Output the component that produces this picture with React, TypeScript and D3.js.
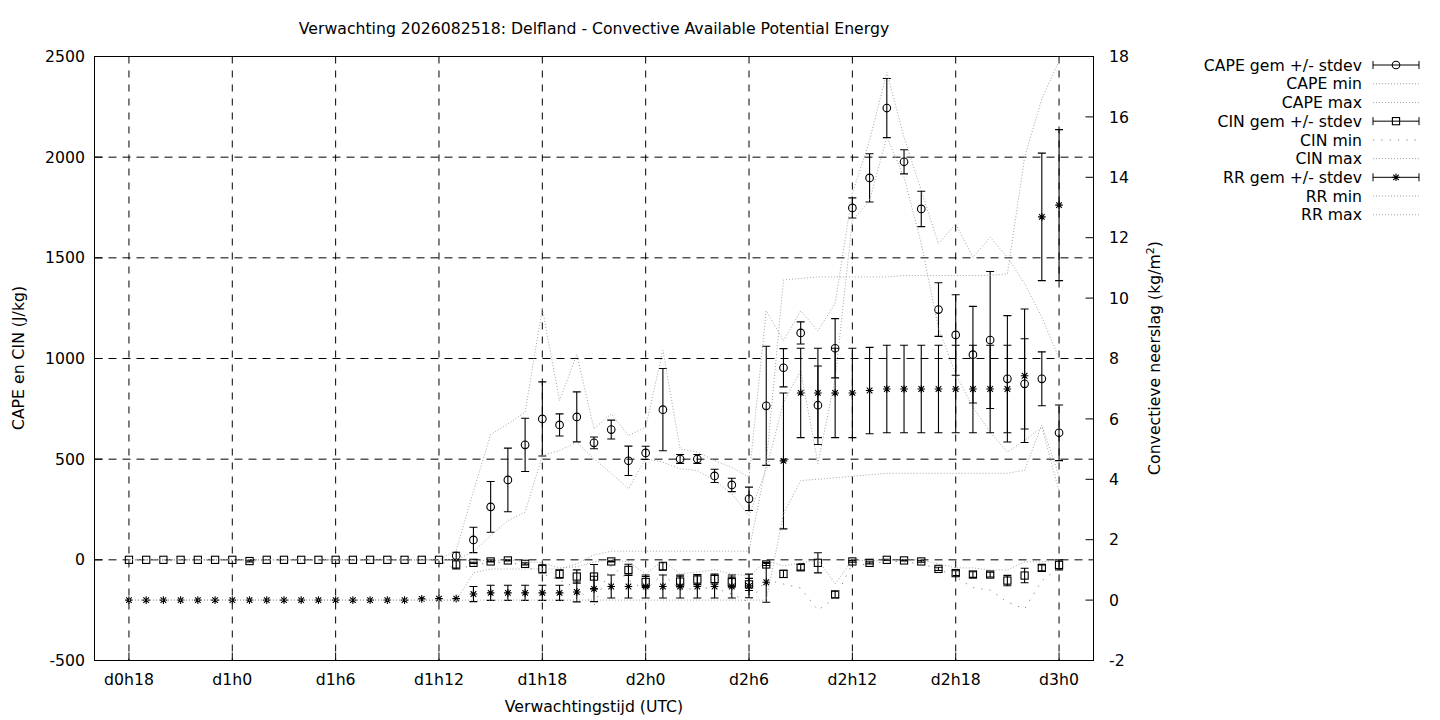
import * as d3 from "d3";

// forecast hours (d0h18 = 18 ... d3h0 = 72)
const hours = [
  18, 19, 20, 21, 22, 23, 24, 25, 26, 27, 28, 29, 30, 31, 32, 33, 34, 35, 36,
  37, 38, 39, 40, 41, 42, 43, 44, 45, 46, 47, 48, 49, 50, 51, 52, 53, 54, 55,
  56, 57, 58, 59, 60, 61, 62, 63, 64, 65, 66, 67, 68, 69, 70, 71, 72,
];

const xTickHours = [18, 24, 30, 36, 42, 48, 54, 60, 66, 72];
const xTickLabels = ["d0h18", "d1h0", "d1h6", "d1h12", "d1h18", "d2h0", "d2h6", "d2h12", "d2h18", "d3h0"];
const yLeftTicks = [-500, 0, 500, 1000, 1500, 2000, 2500];
const yRightTicks = [-2, 0, 2, 4, 6, 8, 10, 12, 14, 16, 18];

const N = null;
const capeMean: (number | null)[] = [
  N, N, N, N, N, N, N, N, N, N, N, N, N, N, N, N, N, N, N,
  20, 99, 263, 397, 571, 700, 670, 710, 581, 647,
  492, 531, 746, 501, 501, 417, 372, 303, 765, 954,
  1127, 768, 1051, 1748, 1897, 2244, 1977, 1743, 1243, 1117,
  1019, 1092, 899, 874, 899, 631,
];
const capeSd = [
  0, 0, 0, 0, 0, 0, 0, 0, 0, 0, 0, 0, 0, 0, 0, 0, 0, 0, 0,
  18, 63, 126, 158, 132, 184, 55, 124, 29, 47,
  73, 33, 204, 22, 22, 33, 33, 58, 296, 95,
  55, 195, 147, 50, 120, 147, 60, 88, 133, 200,
  240, 340, 314, 224, 134, 138,
];
const capeMin = [
  0, 0, 0, 0, 0, 0, 0, 0, 0, 0, 0, 0, 0, 0, 0, 0, 0, 0, 0,
  0, 40, 120, 195, 237, 518, 543, 584, 502, 430,
  353, 503, 485, 452, 444, 394, 328, 220, 450, 780,
  940, 478, 900, 1685, 1785, 2099, 1900, 1571, 1150, 923,
  758, 634, 535, 593, 659, 340,
];
const capeMax = [
  0, 0, 0, 0, 0, 0, 0, 0, 0, 0, 0, 0, 0, 0, 0, 0, 0, 0, 0,
  46, 341, 622, 675, 733, 1247, 791, 1020, 651, 725,
  617, 659, 1040, 551, 535, 493, 460, 410, 1237, 1088,
  1237, 1138, 1274, 1820, 2083, 2422, 2099, 1834, 1569, 1669,
  1503, 1602, 1503, 1372, 1205, 1000,
];

const cinMean = [
  0, 0, 0, 0, 0, 0, 0, -6, 0, 0, 0, 0, 0, 0, 0, 0, 0, 0, 0,
  -23, -15, -8, -3, -20, -45, -70, -83, -83, -8,
  -50, -110, -32, -108, -98, -95, -111, -122, -23, -70,
  -37, -15, -172, -8, -15, 0, -3, -8, -45, -66,
  -73, -73, -103, -78, -40, -25,
];
const cinSd = [
  0, 0, 0, 0, 0, 0, 0, 4, 0, 0, 0, 0, 0, 0, 0, 0, 0, 0, 0,
  22, 3, 3, 3, 5, 20, 21, 33, 60, 3,
  28, 27, 20, 27, 25, 25, 25, 30, 5, 18,
  14, 50, 16, 4, 5, 3, 3, 4, 8, 12,
  14, 12, 26, 36, 15, 25,
];
const cinMin = [
  0, 0, 0, 0, 0, 0, 0, -12, 0, 0, 0, 0, 0, 0, 0, 0, 0, 0, 0,
  -50, -25, -15, -10, -30, -70, -100, -140, -225, -30,
  -100, -150, -70, -150, -140, -140, -170, -210, -100, -120,
  -140, -250, -190, -20, -25, -5, -10, -20, -45, -86,
  -138, -150, -210, -244, -103, -40,
];
const cinMax = [
  0, 0, 0, 0, 0, 0, 0, 0, 0, 0, 0, 0, 0, 0, 0, 0, 0, 0, 0,
  0, -5, -3, 0, -8, -15, -40, -35, -10, 0,
  -10, -70, -5, -70, -60, -50, -70, -80, -5, -30,
  -15, 0, -120, 0, -5, 0, 0, 0, -20, -40,
  -40, -50, -50, -10, -10, 0,
];

const rrMean = [
  0, 0, 0, 0, 0, 0, 0, 0, 0, 0, 0, 0, 0, 0, 0, 0, 0, 0.04, 0.05,
  0.05, 0.2, 0.24, 0.24, 0.24, 0.24, 0.24, 0.27, 0.37, 0.45,
  0.45, 0.45, 0.45, 0.45, 0.45, 0.45, 0.45, 0.47, 0.59, 4.61,
  6.86, 6.86, 6.86, 6.86, 6.94, 6.99, 6.99, 6.99, 6.99, 6.99,
  6.99, 6.99, 6.99, 7.43, 12.69, 13.08,
];
const rrSd = [
  0, 0, 0, 0, 0, 0, 0, 0, 0, 0, 0, 0, 0, 0, 0, 0, 0, 0, 0,
  0, 0.25, 0.25, 0.25, 0.25, 0.25, 0.25, 0.33, 0.42, 0.38,
  0.38, 0.38, 0.38, 0.38, 0.38, 0.38, 0.38, 0.39, 0.66, 2.25,
  1.48, 1.48, 1.48, 1.48, 1.43, 1.45, 1.45, 1.45, 1.45, 1.45,
  1.45, 1.45, 1.45, 2.21, 2.11, 2.5,
];
const rrMin = [
  0, 0, 0, 0, 0, 0, 0, 0, 0, 0, 0, 0, 0, 0, 0, 0, 0, 0, 0,
  0, 0, 0, 0, 0, 0, 0, 0, 0, 0,
  0, 0, 0, 0, 0, 0, 0, 0, 0, 2.86,
  3.96, 4.0, 4.05, 4.1, 4.15, 4.2, 4.2, 4.2, 4.2, 4.2,
  4.2, 4.2, 4.2, 4.3, 5.8, 4.1,
];
const rrMax = [
  0, 0, 0, 0, 0, 0, 0, 0, 0, 0, 0, 0, 0, 0, 0, 0, 0, 0, 0,
  0, 0.9, 1.03, 1.03, 1.03, 1.03, 1.03, 1.2, 1.5, 1.62,
  1.62, 1.62, 1.62, 1.62, 1.62, 1.62, 1.62, 1.62, 4.5, 10.6,
  10.65, 10.7, 10.7, 10.7, 10.7, 10.7, 10.75, 10.75, 10.75, 10.75,
  10.75, 10.75, 10.8, 14.66, 16.6, 17.85,
];

const legendLabels = [
  "CAPE gem +/- stdev", "CAPE min", "CAPE max",
  "CIN gem +/- stdev", "CIN min", "CIN max",
  "RR gem +/- stdev", "RR min", "RR max",
];

const FONT = "'DejaVu Sans', sans-serif";
const DOT = "#a4a4a4";

const x = d3.scaleLinear().domain([16, 74]).range([94.5, 1093.5]);
const yL = d3.scaleLinear().domain([-500, 2500]).range([660.5, 56.5]);
const yR = d3.scaleLinear().domain([-2, 18]).range([660.5, 56.5]);

type Kind = "circle" | "square" | "star";

const Marker = ({ kind, cx, cy }: { kind: Kind; cx: number; cy: number }) => {
  if (kind === "circle")
    return <circle cx={cx} cy={cy} r={3.8} fill="none" stroke="#000" strokeWidth={1.1} />;
  if (kind === "square")
    return <rect x={cx - 3.6} y={cy - 3.6} width={7.2} height={7.2} fill="none" stroke="#000" strokeWidth={1.1} />;
  return (
    <path
      d={`M${cx - 3.8},${cy}H${cx + 3.8}M${cx},${cy - 3.8}V${cy + 3.8}M${cx - 2.8},${cy - 2.8}L${cx + 2.8},${cy + 2.8}M${cx - 2.8},${cy + 2.8}L${cx + 2.8},${cy - 2.8}`}
      stroke="#000"
      strokeWidth={1.1}
    />
  );
};

const ErrorSeries = ({
  mean,
  sd,
  y,
  kind,
}: {
  mean: (number | null)[];
  sd: number[];
  y: d3.ScaleLinear<number, number>;
  kind: Kind;
}) => (
  <g>
    {mean.map((m, i) => {
      if (m === null) return null;
      const cx = x(hours[i]);
      const top = y(m + sd[i]);
      const bot = y(m - sd[i]);
      return (
        <g key={i}>
          {sd[i] > 0 && (
            <path
              d={`M${cx},${top}V${bot}M${cx - 4},${top}H${cx + 4}M${cx - 4},${bot}H${cx + 4}`}
              stroke="#000"
              strokeWidth={1.1}
              fill="none"
            />
          )}
          <Marker kind={kind} cx={cx} cy={y(m)} />
        </g>
      );
    })}
  </g>
);

const dotLine = (vals: number[], y: d3.ScaleLinear<number, number>) =>
  d3
    .line<number>()
    .x((_, i) => x(hours[i]))
    .y((d) => y(d))(vals) || "";

export default function App() {
  const plotL = x.range()[0];
  const plotR = x.range()[1];
  const plotT = yL.range()[1];
  const plotB = yL.range()[0];

  const legendY = legendLabels.map((_, k) => 65 + k * 18.72);
  const legKinds: (Kind | "dense" | "sparse")[] = [
    "circle", "dense", "dense", "square", "sparse", "dense", "star", "dense", "dense",
  ];

  return (
    <svg
      width={1440}
      height={720}
      style={{ position: "absolute", left: 0, top: 0, background: "#fff" }}
      fontFamily={FONT}
      fontSize={15.7}
    >
      <rect width={1440} height={720} fill="#fff" />

      {/* grid */}
      {xTickHours.map((h) => (
        <line key={"gx" + h} x1={x(h)} x2={x(h)} y1={plotT} y2={plotB} stroke="#000" strokeWidth={1} strokeDasharray="7,7" />
      ))}
      {yLeftTicks.slice(1, -1).map((v) => (
        <line key={"gy" + v} x1={plotL} x2={plotR} y1={yL(v)} y2={yL(v)} stroke="#000" strokeWidth={1} strokeDasharray="8,6" />
      ))}

      {/* ticks */}
      {yLeftTicks.map((v) => (
        <line key={"tl" + v} x1={plotL} x2={plotL + 8} y1={yL(v)} y2={yL(v)} stroke="#000" />
      ))}
      {yRightTicks.map((v) => (
        <line key={"tr" + v} x1={plotR - 8} x2={plotR} y1={yR(v)} y2={yR(v)} stroke="#000" />
      ))}
      {xTickHours.map((h) => (
        <line key={"tb" + h} x1={x(h)} x2={x(h)} y1={plotB - 8} y2={plotB} stroke="#000" />
      ))}

      {/* CAPE */}
      <ErrorSeries mean={capeMean} sd={capeSd} y={yL} kind="circle" />
      <path d={dotLine(capeMin, yL)} fill="none" stroke={DOT} strokeDasharray="1,2" />
      <path d={dotLine(capeMax, yL)} fill="none" stroke={DOT} strokeDasharray="1,2" />

      {/* CIN */}
      <ErrorSeries mean={cinMean} sd={cinSd} y={yL} kind="square" />
      <path d={dotLine(cinMin, yL)} fill="none" stroke="#888" strokeDasharray="1.3,7" />
      <path d={dotLine(cinMax, yL)} fill="none" stroke={DOT} strokeDasharray="1,2" />

      {/* RR */}
      <ErrorSeries mean={rrMean} sd={rrSd} y={yR} kind="star" />
      <path d={dotLine(rrMin, yR)} fill="none" stroke={DOT} strokeDasharray="1,2" />
      <path d={dotLine(rrMax, yR)} fill="none" stroke={DOT} strokeDasharray="1,2" />

      {/* border */}
      <rect x={plotL} y={plotT} width={plotR - plotL} height={plotB - plotT} fill="none" stroke="#000" strokeWidth={1} />

      {/* tick labels */}
      {yLeftTicks.map((v) => (
        <text key={"ll" + v} x={85} y={yL(v)} dy="0.36em" textAnchor="end">
          {v}
        </text>
      ))}
      {yRightTicks.map((v) => (
        <text key={"rl" + v} x={1109} y={yR(v)} dy="0.36em" textAnchor="start">
          {v}
        </text>
      ))}
      {xTickHours.map((h, k) => (
        <text key={"xl" + h} x={x(h)} y={685} textAnchor="middle">
          {xTickLabels[k]}
        </text>
      ))}

      {/* titles */}
      <text x={594} y={34} textAnchor="middle">
        Verwachting 2026082518: Delfland - Convective Available Potential Energy
      </text>
      <text x={594} y={712} textAnchor="middle">
        Verwachtingstijd (UTC)
      </text>
      <text transform="translate(24,358) rotate(-90)" textAnchor="middle">
        CAPE en CIN (J/kg)
      </text>
      <text transform="translate(1160,358) rotate(-90)" textAnchor="middle">
        Convectieve neerslag (kg/m<tspan fontSize={11} dy={-6}>2</tspan>
        <tspan dy={6}>)</tspan>
      </text>

      {/* legend */}
      {legendLabels.map((lab, k) => {
        const ly = legendY[k];
        const kind = legKinds[k];
        const x1 = 1373;
        const x2 = 1419;
        return (
          <g key={lab}>
            <text x={1362} y={ly} dy="0.36em" textAnchor="end">
              {lab}
            </text>
            {kind === "dense" || kind === "sparse" ? (
              <line
                x1={x1}
                x2={x2}
                y1={ly}
                y2={ly}
                stroke={kind === "sparse" ? "#888" : DOT}
                strokeDasharray={kind === "sparse" ? "1.3,7" : "1,2"}
              />
            ) : (
              <g>
                <path
                  d={`M${x1},${ly}H${x2}M${x1},${ly - 4}V${ly + 4}M${x2},${ly - 4}V${ly + 4}`}
                  stroke="#000"
                  fill="none"
                />
                <Marker kind={kind} cx={(x1 + x2) / 2} cy={ly} />
              </g>
            )}
          </g>
        );
      })}
    </svg>
  );
}
